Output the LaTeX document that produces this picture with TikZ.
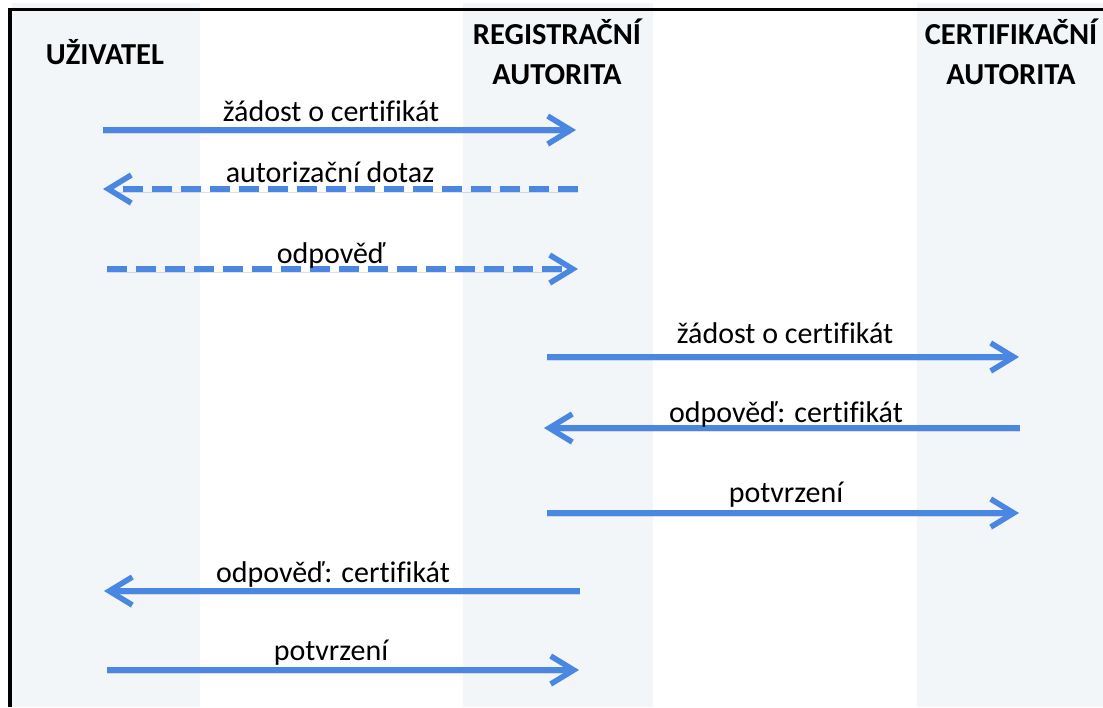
\documentclass[tikz,border=0pt]{standalone}
\usepackage{fontspec}
\setmainfont{Carlito}[Ligatures=NoCommon]
\usetikzlibrary{arrows.meta}
\definecolor{bandgray}{HTML}{F3F6F8}
\definecolor{msgblue}{HTML}{4A87E2}
\begin{document}
\begin{tikzpicture}[x=1pt,y=-1pt,
  msg/.style={draw=msgblue, line width=5.5pt,
    -{Straight Barb[length=23pt,width=28pt]},
    preaction={draw=black, opacity=0.12, transform canvas={yshift=-3pt}}},
  dashmsg/.style={msg, dash pattern=on 20pt off 9pt},
  lbl/.style={anchor=base, inner sep=0pt, font=\fontsize{30}{36}\selectfont},
  head/.style={align=center, inner sep=0pt, font=\bfseries\fontsize{30.5}{40}\selectfont}]

\useasboundingbox (0,0) rectangle (1103,707);
\fill[white] (0,0) rectangle (1103,707);

% lanes of the three parties
\fill[bandgray] (12,3) rectangle (200,707);
\fill[bandgray] (463,3) rectangle (653,707);
\fill[bandgray] (917,3) rectangle (1103,707);

% frame
\draw[line width=3.5pt] (10,707) -- (10,9.25) -- (1103,9.25);

% party headings
\node[head] (user) at (105,52) {UŽIVATEL};
\node[head] (ra) at (557,52) {REGISTRAČNÍ\\AUTORITA};
\node[head] (ca) at (1011,52) {CERTIFIKAČNÍ\\AUTORITA};

% message end points
\coordinate (u1) at (103,130);  \coordinate (r1) at (576,130);
\coordinate (r2) at (578,189);  \coordinate (u2) at (103,189);
\coordinate (u3) at (107,269);  \coordinate (r3) at (578,269);
\coordinate (r4) at (547,357);  \coordinate (c4) at (1019,357);
\coordinate (c5) at (1020,428); \coordinate (r5) at (544,428);
\coordinate (r6) at (547,513);  \coordinate (c6) at (1019,513);
\coordinate (r7) at (580,591);  \coordinate (u7) at (104,591);
\coordinate (u8) at (107,670);  \coordinate (r8) at (579,670);

% messages
\draw[msg] (u1) -- (r1);
\draw[dashmsg] (r2) -- (u2);
\draw[dashmsg] (u3) -- (r3);
\draw[msg] (r4) -- (c4);
\draw[msg] (c5) -- (r5);
\draw[msg] (r6) -- (c6);
\draw[msg] (r7) -- (u7);
\draw[msg] (u8) -- (r8);

% message labels
\node[lbl] (l1) at (331,121) {žádost o certifikát};
\node[lbl] (l2) at (330,182) {autorizační dotaz};
\node[lbl] (l3) at (331,263) {odpověď};
\node[lbl] (l4) at (785,343) {žádost o certifikát};
\node[lbl] (l5) at (786,422) {odpověď: certifikát};
\node[lbl] (l6) at (786,502) {potvrzení};
\node[lbl] (l7) at (333,582) {odpověď: certifikát};
\node[lbl] (l8) at (331,660) {potvrzení};
\end{tikzpicture}
\end{document}
